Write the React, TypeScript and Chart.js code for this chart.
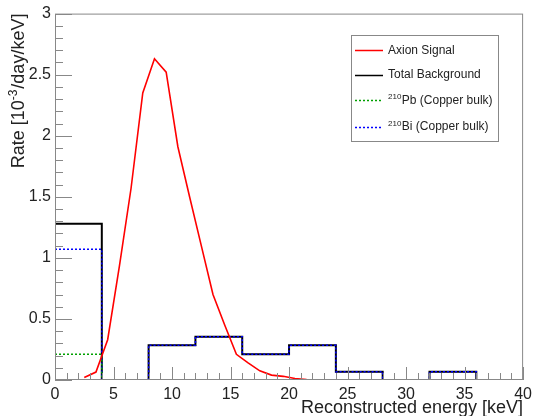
import { useEffect, useRef } from 'react';
import { Chart, registerables } from 'chart.js';

Chart.register(...registerables);

// ---- data ----
const binEdges = [0, 4, 8, 12, 16, 20, 24, 28, 32, 36, 40];
const totalBackground = [1.28, 0, 0.285, 0.355, 0.21, 0.285, 0.068, 0, 0.068, 0];
const bi210Copper = [1.07, 0, 0.285, 0.355, 0.21, 0.285, 0.068, 0, 0.068, 0];
const pb210Copper = [0.21, 0, 0, 0, 0, 0, 0, 0, 0, 0];
const signalEnergy = [2.5, 3.5, 4.5, 5.5, 6.5, 7.5, 8.5, 9.5, 10.5, 11.5, 12.5, 13.5, 14.5, 15.5, 16.5, 17.5, 18.5, 19.5, 20.5, 21.5];
const signalRate = [0.02, 0.065, 0.33, 0.93, 1.57, 2.35, 2.63, 2.52, 1.91, 1.5, 1.1, 0.7, 0.45, 0.21, 0.14, 0.075, 0.04, 0.03, 0.012, 0.004];
const xTickValues = [0, 5, 10, 15, 20, 25, 30, 35, 40];
const yTickValues = [0, 0.5, 1, 1.5, 2, 2.5, 3];
const legendItems = [
  { sup: '', label: 'Axion Signal', color: '#ff0000', dash: [] as number[] },
  { sup: '', label: 'Total Background', color: '#000000', dash: [] as number[] },
  { sup: '210', label: 'Pb (Copper bulk)', color: '#00a000', dash: [2, 2] },
  { sup: '210', label: 'Bi (Copper bulk)', color: '#0000ff', dash: [2, 2] },
];

const FONT = '"Liberation Sans", Arial, Helvetica, sans-serif';

function histPoints(values: number[]) {
  // value at each bin's left edge, plus the closing right edge
  const pts = values.map((v, i) => ({ x: binEdges[i], y: v }));
  pts.push({ x: binEdges[binEdges.length - 1], y: values[values.length - 1] });
  return pts;
}

const rootPlugin = {
  id: 'rootStyle',
  afterDraw(chart: any) {
    const ctx = chart.ctx as CanvasRenderingContext2D;
    const { left, right, top, bottom } = chart.chartArea;
    const xs = chart.scales.x;
    const ys = chart.scales.y;
    ctx.save();
    // frame
    ctx.strokeStyle = '#888888';
    ctx.lineWidth = 1;
    ctx.strokeRect(left + 0.5, top + 0.5, right - left - 1, bottom - top - 1);
    // x ticks
    ctx.beginPath();
    for (let v = 0; v <= 40; v += 1) {
      const px = Math.round(xs.getPixelForValue(v)) + 0.5;
      const len = v % 5 === 0 ? 13 : 7;
      ctx.moveTo(px, bottom);
      ctx.lineTo(px, bottom - len);
    }
    // y ticks
    for (let i = 0; i <= 30; i++) {
      const v = i / 10;
      const py = Math.round(ys.getPixelForValue(v)) + 0.5;
      const len = i % 5 === 0 ? 17 : 8;
      ctx.moveTo(left, py);
      ctx.lineTo(left + len, py);
    }
    ctx.stroke();

    // axis titles
    ctx.fillStyle = '#222222';
    ctx.textBaseline = 'alphabetic';
    ctx.font = `18px ${FONT}`;
    ctx.textAlign = 'right';
    ctx.fillText('Reconstructed energy [keV]', right, 413);

    // y title with superscript
    ctx.save();
    ctx.translate(24, top);
    ctx.rotate(-Math.PI / 2);
    const p1 = 'Rate [10';
    const p2 = '-3';
    const p3 = '/day/keV]';
    ctx.font = `18px ${FONT}`;
    const w1 = ctx.measureText(p1).width;
    const w3 = ctx.measureText(p3).width;
    ctx.font = `12px ${FONT}`;
    const w2 = ctx.measureText(p2).width;
    const total = w1 + w2 + w3 + 1;
    ctx.textAlign = 'left';
    let x0 = -total;
    ctx.font = `18px ${FONT}`;
    ctx.fillText(p1, x0, 0);
    x0 += w1;
    ctx.font = `12px ${FONT}`;
    ctx.fillText(p2, x0, -7);
    x0 += w2 + 1;
    ctx.font = `18px ${FONT}`;
    ctx.fillText(p3, x0, 0);
    ctx.restore();

    // legend
    const bx = 351, by = 35, bw = 147, bh = 106;
    ctx.fillStyle = '#ffffff';
    ctx.fillRect(bx, by, bw, bh);
    ctx.strokeStyle = '#888888';
    ctx.lineWidth = 1;
    ctx.strokeRect(bx + 0.5, by + 0.5, bw, bh);
    const rows = [50, 74.5, 100, 126.5];
    legendItems.forEach((it, i) => {
      const y = rows[i];
      ctx.beginPath();
      ctx.strokeStyle = it.color;
      ctx.lineWidth = 1.5;
      ctx.setLineDash(it.dash);
      ctx.moveTo(355, Math.round(y) + 0.5);
      ctx.lineTo(383, Math.round(y) + 0.5);
      ctx.stroke();
      ctx.setLineDash([]);
      ctx.fillStyle = '#222222';
      ctx.textAlign = 'left';
      ctx.textBaseline = 'middle';
      let tx = 388;
      if (it.sup) {
        ctx.font = `8px ${FONT}`;
        ctx.fillText(it.sup, tx, y - 3);
        tx += ctx.measureText(it.sup).width + 0.5;
      }
      ctx.font = `12px ${FONT}`;
      ctx.fillText(it.label, tx, y + 0.5);
    });
    ctx.restore();
  },
};

export default function App() {
  const ref = useRef<HTMLCanvasElement | null>(null);
  useEffect(() => {
    if (!ref.current) return;
    const chart = new Chart(ref.current, {
      type: 'line',
      data: {
        datasets: [
          {
            label: 'Axion Signal',
            data: signalEnergy.map((x, i) => ({ x, y: signalRate[i] })),
            borderColor: '#ff0000',
            borderWidth: 1.6,
            pointRadius: 0,
            tension: 0,
            order: 0,
          },
          {
            label: '210Pb (Copper bulk)',
            data: histPoints(pb210Copper),
            borderColor: '#00a000',
            borderWidth: 1.5,
            borderDash: [2, 2],
            pointRadius: 0,
            stepped: 'before',
            order: 1,
          },
          {
            label: '210Bi (Copper bulk)',
            data: histPoints(bi210Copper),
            borderColor: '#0000ff',
            borderWidth: 1.5,
            borderDash: [2, 2],
            pointRadius: 0,
            stepped: 'before',
            order: 2,
          },
          {
            label: 'Total Background',
            data: histPoints(totalBackground),
            borderColor: '#000000',
            borderWidth: 2,
            pointRadius: 0,
            stepped: 'before',
            order: 3,
          },
        ],
      },
      options: {
        animation: false,
        responsive: false,
        devicePixelRatio: 1,
        layout: { padding: { top: 13, right: 10, left: 0, bottom: 0 } },
        plugins: { legend: { display: false }, tooltip: { enabled: false } },
        scales: {
          x: {
            type: 'linear',
            min: 0,
            max: 40,
            grid: { display: false, drawTicks: false },
            border: { display: false },
            afterBuildTicks: (s: any) => { s.ticks = xTickValues.map((v) => ({ value: v })); },
            ticks: { font: { family: FONT, size: 16 }, color: '#222222', padding: 5, maxRotation: 0, autoSkip: false, callback: (v: any) => String(v) },
            afterFit: (s: any) => { s.height = 36; },
          },
          y: {
            type: 'linear',
            min: 0,
            max: 3,
            grid: { display: false, drawTicks: false },
            border: { display: false },
            afterBuildTicks: (s: any) => { s.ticks = yTickValues.map((v) => ({ value: v })); },
            ticks: { font: { family: FONT, size: 16 }, color: '#222222', padding: 4, autoSkip: false, callback: (v: any) => String(v) },
            afterFit: (s: any) => { s.width = 55; },
          },
        },
      },
      plugins: [rootPlugin],
    });
    return () => chart.destroy();
  }, []);
  return (
    <div style={{ position: 'fixed', left: 0, top: 0, width: 537, height: 416, background: '#fff' }}>
      <canvas ref={ref} width={537} height={416} style={{ display: 'block' }} />
    </div>
  );
}
